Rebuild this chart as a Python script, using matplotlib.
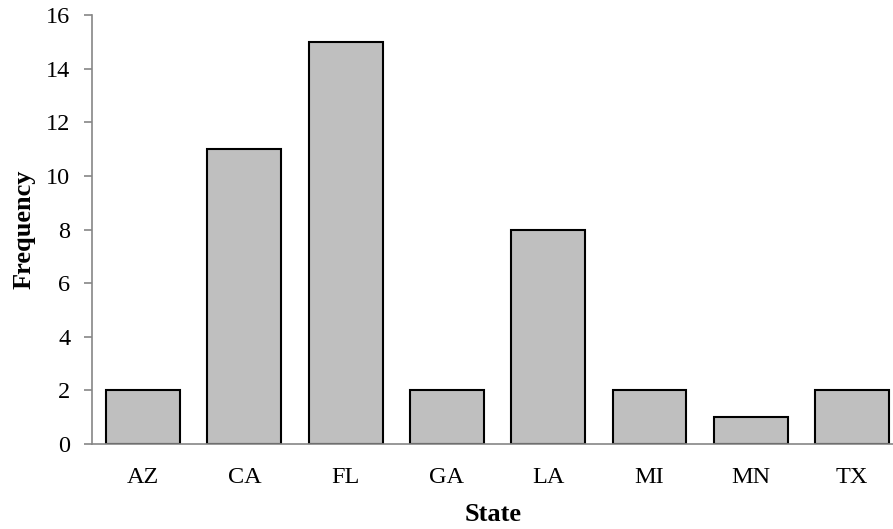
import matplotlib
matplotlib.use("Agg")
import matplotlib.pyplot as plt

states = ["AZ", "CA", "FL", "GA", "LA", "MI", "MN", "TX"]
freq = [2, 11, 15, 2, 8, 2, 1, 2]
yticks = [0, 2, 4, 6, 8, 10, 12, 14, 16]

plt.rcParams['font.family'] = ['Liberation Serif', 'DejaVu Serif']

W, H = 893, 529
fig = plt.figure(figsize=(W/100, H/100), dpi=100)
left, right, top, bottom = 92.4, 893, 15, 444
ax = fig.add_axes([left/W, 1-bottom/H, (right-left)/W, (bottom-top)/H])

x = list(range(len(states)))
ax.bar(x, freq, width=0.73, color="#BFBFBF", edgecolor="black", linewidth=1.5, zorder=3)

cat = 101.29
ax.set_xlim(-0.5, (right-left)/cat - 0.5)
ax.set_ylim(0, 16)
ax.set_yticks(yticks)
ax.set_xticks(x)
ax.set_xticklabels(states)

for s in ["top", "right"]:
    ax.spines[s].set_visible(False)
for s in ["left", "bottom"]:
    ax.spines[s].set_color("#868686")
    ax.spines[s].set_linewidth(1.2)
ax.spines["bottom"].set_zorder(4)

ax.tick_params(axis="y", direction="out", length=6, color="#868686", width=1.2, labelsize=17.5, pad=10)
ax.tick_params(axis="x", length=0, labelsize=17.5, pad=16.5)

ax.set_ylabel("Frequency", fontsize=19, fontweight="bold", labelpad=7.5)
ax.set_xlabel("State", fontsize=19, fontweight="bold", labelpad=11)

fig.savefig("out.png", dpi=100)
